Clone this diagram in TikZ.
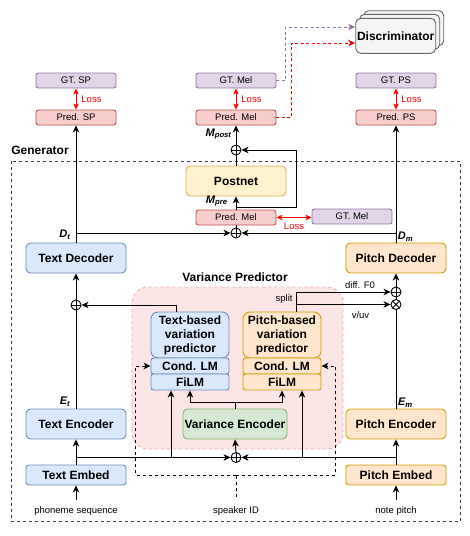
\documentclass[tikz,border=0pt]{standalone}
\usepackage{fontspec}
\setmainfont{Liberation Sans}
\usetikzlibrary{arrows.meta,calc}
\definecolor{blueF}{HTML}{DAE8FC}\definecolor{blueD}{HTML}{6C8EBF}
\definecolor{orgF}{HTML}{FFE6CC}\definecolor{orgD}{HTML}{D79B00}
\definecolor{grnF}{HTML}{D5E8D4}\definecolor{grnD}{HTML}{82B366}
\definecolor{yelF}{HTML}{FFF2CC}\definecolor{yelD}{HTML}{D6B656}
\definecolor{purF}{HTML}{E1D5E7}\definecolor{purD}{HTML}{9673A6}
\definecolor{redF}{HTML}{F8CECC}\definecolor{redD}{HTML}{B85450}
\definecolor{gryF}{HTML}{F5F5F5}\definecolor{gryD}{HTML}{666666}
\definecolor{pinkF}{RGB}{252,230,229}\definecolor{pinkD}{RGB}{240,170,170}
\definecolor{lossR}{HTML}{FF0000}
\begin{document}
\begin{tikzpicture}[x=1pt,y=-1pt,line width=0.9pt,
  base/.style={draw, inner sep=0pt, align=center, text=black},
  bigbox/.style={base, minimum width=100pt, minimum height=30pt, rounded corners=4.5pt, font=\fontsize{12}{14}\selectfont\bfseries},
  embbox/.style={base, minimum width=100pt, minimum height=20pt, rounded corners=3pt, font=\fontsize{12}{14}\selectfont\bfseries},
  smallbox/.style={base, minimum width=80pt, minimum height=15pt, rounded corners=2.5pt, font=\fontsize{9.5}{11}\selectfont},
  vpbox/.style={base, minimum width=78pt, minimum height=46pt, rounded corners=7pt, font=\fontsize{12}{14}\selectfont\bfseries},
  subbox/.style={base, minimum width=78pt, minimum height=16pt, rounded corners=2.5pt, font=\fontsize{12}{14}\selectfont\bfseries},
  bluebox/.style={fill=blueF, draw=blueD},
  orgbox/.style={fill=orgF, draw=orgD},
  grnbox/.style={fill=grnF, draw=grnD},
  yelbox/.style={fill=yelF, draw=yelD},
  purbox/.style={fill=purF, draw=purD},
  redbox/.style={fill=redF, draw=redD},
  grybox/.style={fill=gryF, draw=gryD},
  arr/.style={-{Stealth[length=7pt,width=6.5pt,inset=2pt]}},
  lossarr/.style={draw=lossR, {Stealth[length=6pt,width=5.5pt,inset=1.5pt]}-{Stealth[length=6pt,width=5.5pt,inset=1.5pt]}},
  dsh/.style={dash pattern=on 3pt off 3pt},
  discpur/.style={color=purD, dash pattern=on 3pt off 2.5pt, -{Stealth[length=7pt,width=6.5pt,inset=2pt,fill=purD]}},
  discred/.style={color=lossR, dash pattern=on 3pt off 2.5pt, -{Stealth[length=7pt,width=6.5pt,inset=2pt,fill=lossR]}},
  lbl/.style={inner sep=0pt, font=\fontsize{9.5}{11}\selectfont},
  losslbl/.style={inner sep=0pt, text=lossR, font=\fontsize{9.5}{11}\selectfont},
  inlbl/.style={inner sep=4pt, font=\fontsize{9.5}{11}\selectfont},
  title/.style={inner sep=0pt, font=\fontsize{12}{14}\selectfont\bfseries},
  var/.style={inner sep=0pt, font=\fontsize{11}{13}\selectfont\bfseries\itshape},
  opl/.style={circle, draw, fill=white, minimum size=10pt, inner sep=0pt,
    path picture={\draw[line width=0.8pt] (path picture bounding box.north) -- (path picture bounding box.south)
      (path picture bounding box.west) -- (path picture bounding box.east);}},
  otm/.style={circle, draw, fill=white, minimum size=10pt, inner sep=0pt,
    path picture={\draw[line width=0.8pt] (path picture bounding box.north west) -- (path picture bounding box.south east)
      (path picture bounding box.north east) -- (path picture bounding box.south west);}}
]
\useasboundingbox (0,0) rectangle (470,536);

% regions
\draw[black!75, line width=0.7pt, dash pattern=on 3pt off 3pt] (11.7,161) rectangle (460,521.7);
\node[title] (gen) at (40,150) {Generator};
\draw[fill=pinkF, draw=pinkD, dsh, rounded corners=16pt] (132,287) rectangle (343,449);
\node[title] (vptitle) at (235,277) {Variance Predictor};

% discriminator
\node[base, grybox, minimum width=80pt, minimum height=35pt, rounded corners=5pt] (disc3) at (403.7,28.2) {};
\node[base, grybox, minimum width=80pt, minimum height=35pt, rounded corners=5pt] (disc2) at (399.7,31.8) {};
\node[base, grybox, minimum width=80pt, minimum height=35pt, rounded corners=5pt, font=\fontsize{12}{14}\selectfont\bfseries] (disc) at (395.7,35.8) {Discriminator};

% top row
\node[smallbox, purbox] (gtsp) at (76,80.5) {GT. SP};
\node[smallbox, redbox] (predsp) at (76,117.5) {Pred. SP};
\node[smallbox, purbox] (gtmel) at (236,80.5) {GT. Mel};
\node[smallbox, redbox] (predmel) at (236,117.5) {Pred. Mel};
\node[smallbox, purbox] (gtps) at (396,80.5) {GT. PS};
\node[smallbox, redbox] (predps) at (396,117.5) {Pred. PS};

\draw[lossarr] (gtsp.south) -- (predsp.north) node[midway, losslbl, anchor=west, xshift=5pt] {Loss};
\draw[lossarr] (gtmel.south) -- (predmel.north) node[midway, losslbl, anchor=west, xshift=5pt] {Loss};
\draw[lossarr] (gtps.south) -- (predps.north) node[midway, losslbl, anchor=west, xshift=5pt] {Loss};

\draw[discpur] (gtmel.east) -- ++(9,0) |- ([yshift=8.8pt]disc.west);
\draw[discred] (predmel.east) -- ++(15,0) |- ([yshift=-7.2pt]disc.west);

% mel path
\node[opl] (plusup) at (236,150) {};
\node[bigbox, yelbox] (postnet) at (236,181) {Postnet};
\node[smallbox, redbox] (predmel2) at (236,217.5) {Pred. Mel};
\node[smallbox, purbox] (gtmel2) at (352,216.5) {GT. Mel};
\node[opl] (plusmid) at (236,233) {};

\draw[arr] (plusup.north) -- (predmel.south);
\node[var, anchor=east] (mpost) at (232,134) {M\textsubscript{post}};
\draw (postnet.north) -- (plusup.south);
\draw[arr] (predmel2.north) -- (postnet.south);
\node[var, anchor=east] (mpre) at (228,201) {M\textsubscript{pre}};
\coordinate (skl) at (236,207);
\coordinate (skr) at (296,207);
\draw[arr] (skl) -- (skr) |- (plusup.east);
\draw (plusmid.north) -- (predmel2.south);
\draw[lossarr] (predmel2.east) -- (predmel2.east -| gtmel2.west) node[midway, losslbl, below=5pt] {Loss};

% decoders
\node[bigbox, bluebox] (textdec) at (76,258) {Text Decoder};
\node[bigbox, orgbox] (pitchdec) at (396,258) {Pitch Decoder};
\draw[arr] (textdec.north) -- (predsp.south);
\draw[arr] (pitchdec.north) -- (predps.south);
\draw[arr] (textdec.north |- plusmid) -- (plusmid.west);
\draw[arr] (pitchdec.north |- plusmid) -- (plusmid.east);
\node[var] (dt) at (65,235) {D\textsubscript{t}};
\node[var] (dm) at (405.5,237) {D\textsubscript{m}};

% variance predictor
\node[vpbox, bluebox] (tvp) at (190,335) {Text-based\\variation\\predictor};
\node[subbox, bluebox] (condlm1) at (190,366) {Cond. LM};
\node[subbox, bluebox] (film1) at (190,382) {FiLM};
\node[vpbox, orgbox] (pvp) at (282,335) {Pitch-based\\variation\\predictor};
\node[subbox, orgbox] (condlm2) at (282,366) {Cond. LM};
\node[subbox, orgbox] (film2) at (282,382) {FiLM};
\node[bigbox, grnbox, minimum width=104pt] (venc) at (235,424) {Variance Encoder};

% left combine
\node[opl] (plusleft) at (76,305) {};
\draw[arr] (plusleft.north) -- (textdec.south);
\draw[arr] ([xshift=-14pt]tvp.north) |- (plusleft.east);

% right combine
\node[opl] (oplus) at (396,292) {};
\node[otm] (otimes) at (396,304.5) {};
\draw[arr] (oplus.north) -- (pitchdec.south);
\draw (otimes.north) -- (oplus.south);
\draw[arr] ([xshift=14pt]pvp.north) |- (oplus.west);
\draw[arr] ([xshift=14pt]pvp.north) |- (otimes.west);
\node[lbl, anchor=east] (split) at (293,299) {split};
\node[lbl] (df0) at (360,285) {diff. F0};
\node[lbl] (vuv) at (360.5,315) {v/uv};

% encoders
\node[bigbox, bluebox] (textenc) at (76,424) {Text Encoder};
\node[bigbox, orgbox] (pitchenc) at (396,424) {Pitch Encoder};
\node[embbox, bluebox] (textemb) at (76,475) {Text Embed};
\node[embbox, orgbox] (pitchemb) at (396,475) {Pitch Embed};
\draw (textenc.north) -- (plusleft.south);
\draw (pitchenc.north) -- (otimes.south);
\node[var] (et) at (65,402) {E\textsubscript{t}};
\node[var] (em) at (405.5,403) {E\textsubscript{m}};

\draw[arr] (venc.north) -- ++(0,-6) -| (film1.south);
\draw[arr] (venc.north) -- ++(0,-6) -| (film2.south);

\node[opl] (plusbot) at (236,457.5) {};
\draw[arr] (plusbot.north) -- (venc.south);
\draw[arr] (textemb.north) -- (textenc.south);
\draw[arr] (pitchemb.north) -- (pitchenc.south);
\draw[arr] (textemb.north |- plusbot) -- (plusbot.west);
\draw[arr] (pitchemb.north |- plusbot) -- (plusbot.east);
\draw[arr] ([xshift=-19pt]film1.south |- plusbot) -- ([xshift=-19pt]film1.south);
\draw[arr] ([xshift=20pt]film2.south |- plusbot) -- ([xshift=20pt]film2.south);

% inputs
\node[inlbl] (phon) at (76,511) {phoneme sequence};
\node[inlbl] (spkid) at (236,511) {speaker ID};
\node[inlbl] (npitch) at (396,511) {note pitch};
\draw[arr] ([yshift=2pt]phon.north) -- (textemb.south);
\draw[arr] ([yshift=2pt]npitch.north) -- (pitchemb.south);
\coordinate (sj) at (236,475);
\draw[dsh] ([yshift=5pt]spkid.north) -- (sj);
\draw[dsh, arr] (sj) -| ([xshift=-15pt]condlm1.west) -- (condlm1.west);
\draw[dsh, arr] (sj) -| ([xshift=14pt]condlm2.east) -- (condlm2.east);
\end{tikzpicture}
\end{document}
